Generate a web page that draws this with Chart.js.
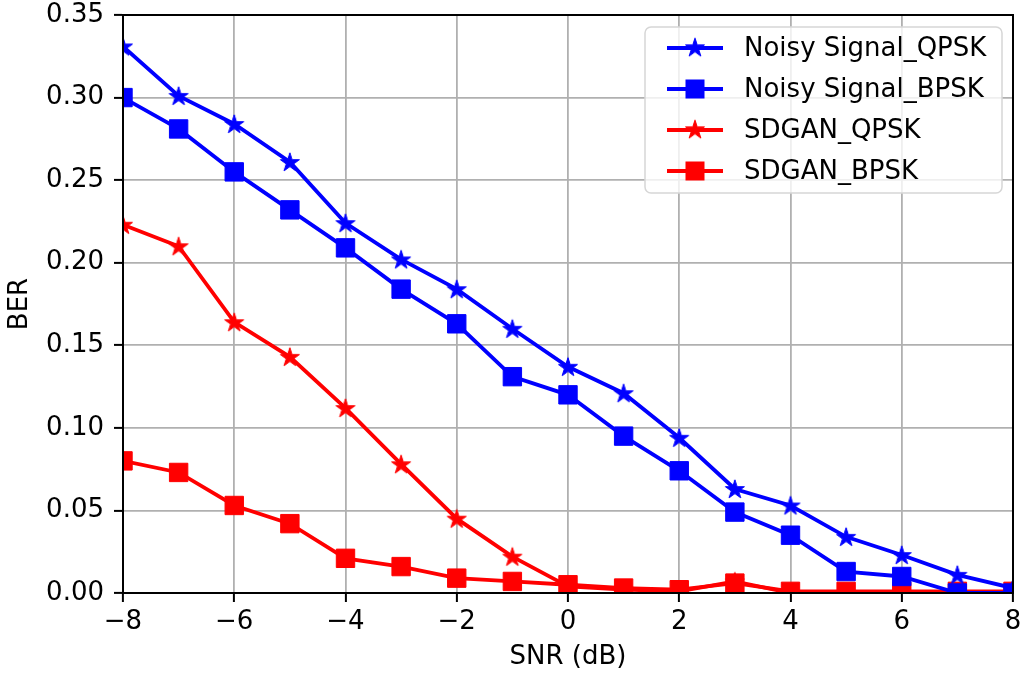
<!DOCTYPE html>
<html>
<head>
<meta charset="utf-8">
<script src="https://cdn.jsdelivr.net/npm/chart.js@4"></script>
<style>
  html, body { margin: 0; padding: 0; background: #fff; }
  #wrap { width: 1027px; height: 677px; }
</style>
</head>
<body>
<div id="wrap"><canvas id="ber"></canvas></div>
<script>
// data
const snr = [-8, -7, -6, -5, -4, -3, -2, -1, 0, 1, 2, 3, 4, 5, 6, 7, 8];
const noisyQpsk = [0.331, 0.301, 0.284, 0.261, 0.224, 0.202, 0.184, 0.160, 0.137, 0.121, 0.094, 0.063, 0.053, 0.034, 0.023, 0.011, 0.003];
const noisyBpsk = [0.300, 0.281, 0.255, 0.232, 0.209, 0.184, 0.163, 0.131, 0.120, 0.095, 0.074, 0.049, 0.035, 0.013, 0.010, 0.000, 0.000];
const sdganQpsk = [0.223, 0.210, 0.164, 0.143, 0.112, 0.078, 0.045, 0.022, 0.004, 0.002, 0.001, 0.007, 0.000, 0.000, 0.000, 0.000, 0.000];
const sdganBpsk = [0.080, 0.073, 0.053, 0.042, 0.021, 0.016, 0.009, 0.007, 0.005, 0.003, 0.002, 0.006, 0.001, 0.001, 0.001, 0.001, 0.001];
const seriesNames = ["Noisy Signal_QPSK", "Noisy Signal_BPSK", "SDGAN_QPSK", "SDGAN_BPSK"];
const yTicks = [0, 0.05, 0.10, 0.15, 0.20, 0.25, 0.30, 0.35];

const FONT = "DejaVu Sans";
const FSIZE = 26;

function makeStar(color) {
  var c = document.createElement("canvas");
  c.width = 24; c.height = 24;
  var g = c.getContext("2d");
  var R = 10, r = R * 0.382;
  g.beginPath();
  for (var i = 0; i < 10; i++) {
    var a = -Math.PI / 2 + i * Math.PI / 5;
    var rad = i % 2 === 0 ? R : r;
    var px = 12 + rad * Math.cos(a), py = 12.8 + rad * Math.sin(a);
    if (i === 0) g.moveTo(px, py); else g.lineTo(px, py);
  }
  g.closePath();
  g.fillStyle = color;
  g.fill();
  g.strokeStyle = color;
  g.lineWidth = 1;
  g.stroke();
  return c;
}

const blueStar = makeStar("#0000ff");
const redStar = makeStar("#ff0000");

function pts(vals) {
  return snr.map(function (x, i) { return { x: x, y: vals[i] }; });
}

function ds(label, vals, color, marker) {
  return {
    label: label,
    data: pts(vals),
    borderColor: color,
    backgroundColor: color,
    borderWidth: 3.8,
    pointStyle: marker,
    pointRadius: marker === "rect" ? 13 : 12,
    pointBorderWidth: 1,
    pointBorderColor: color,
    pointBackgroundColor: color,
    tension: 0
  };
}

const legendEntries = [
  { color: "#0000ff", marker: blueStar },
  { color: "#0000ff", marker: "rect" },
  { color: "#ff0000", marker: redStar },
  { color: "#ff0000", marker: "rect" }
];

const boxPlugin = {
  id: "boxAndLegend",
  afterDraw: function (chart) {
    var ctx = chart.ctx;
    var a = chart.chartArea;
    ctx.save();
    // top/right spines
    ctx.strokeStyle = "#000";
    ctx.lineWidth = 2;
    ctx.strokeRect(a.left, a.top, a.right - a.left, a.bottom - a.top);

    // legend
    var lx = 645, ly = 27, lw = 357, lh = 166, rr = 6;
    ctx.beginPath();
    ctx.moveTo(lx + rr, ly);
    ctx.arcTo(lx + lw, ly, lx + lw, ly + lh, rr);
    ctx.arcTo(lx + lw, ly + lh, lx, ly + lh, rr);
    ctx.arcTo(lx, ly + lh, lx, ly, rr);
    ctx.arcTo(lx, ly, lx + lw, ly, rr);
    ctx.closePath();
    ctx.fillStyle = "rgba(255,255,255,0.8)";
    ctx.fill();
    ctx.strokeStyle = "#d6d6d6";
    ctx.lineWidth = 1.5;
    ctx.stroke();

    ctx.font = FSIZE + "px '" + FONT + "'";
    ctx.textBaseline = "middle";
    ctx.textAlign = "left";
    for (var i = 0; i < legendEntries.length; i++) {
      var e = legendEntries[i];
      var y = 48 + i * 41;
      ctx.strokeStyle = e.color;
      ctx.lineWidth = 3.8;
      ctx.beginPath();
      ctx.moveTo(667, y);
      ctx.lineTo(723, y);
      ctx.stroke();
      if (e.marker === "rect") {
        ctx.fillStyle = e.color;
        ctx.fillRect(695 - 9.5, y - 9.5, 19, 19);
      } else {
        ctx.drawImage(e.marker, 695 - 12, y - 12.8);
      }
      ctx.fillStyle = "#000";
      ctx.fillText(seriesNames[i], 744, y + 1);
    }
    ctx.restore();
  }
};

new Chart(document.getElementById("ber"), {
  type: "line",
  data: {
    datasets: [
      ds(seriesNames[0], noisyQpsk, "#0000ff", blueStar),
      ds(seriesNames[1], noisyBpsk, "#0000ff", "rect"),
      ds(seriesNames[2], sdganQpsk, "#ff0000", redStar),
      ds(seriesNames[3], sdganBpsk, "#ff0000", "rect")
    ]
  },
  options: {
    responsive: true,
    maintainAspectRatio: false,
    animation: false,
    layout: { padding: { left: 0, top: 15, right: 12, bottom: 0 } },
    plugins: {
      legend: { display: false },
      tooltip: { enabled: false }
    },
    scales: {
      x: {
        type: "linear",
        min: -8,
        max: 8,
        afterFit: function (scale) {
          scale.height = 84;
          scale.paddingLeft = 0;
          scale.paddingRight = 0;
        },
        ticks: {
          stepSize: 2,
          color: "#000",
          padding: 5,
          font: { family: FONT, size: FSIZE },
          callback: function (v) { return String(v).replace("-", "\u2212"); }
        },
        grid: { color: "#b0b0b0", lineWidth: 1.8, tickColor: "#000", tickLength: 9, tickWidth: 2 },
        border: { display: true, color: "#000", width: 2 },
        title: { display: true, text: "SNR (dB)", color: "#000", font: { family: FONT, size: FSIZE }, padding: { top: 0, bottom: 4 } }
      },
      y: {
        min: 0,
        max: 0.35,
        afterFit: function (scale) {
          scale.width = 123;
          scale.paddingTop = 0;
          scale.paddingBottom = 0;
        },
        afterBuildTicks: function (scale) {
          scale.ticks = yTicks.map(function (v) { return { value: v }; });
        },
        ticks: {
          color: "#000",
          padding: 10,
          font: { family: FONT, size: FSIZE },
          callback: function (v) { return Number(v).toFixed(2); }
        },
        grid: { color: "#b0b0b0", lineWidth: 1.8, tickColor: "#000", tickLength: 9, tickWidth: 2 },
        border: { display: true, color: "#000", width: 2 },
        title: { display: true, text: "BER", color: "#000", font: { family: FONT, size: FSIZE }, padding: { top: 5, bottom: 0 } }
      }
    }
  },
  plugins: [boxPlugin]
});
</script>
</body>
</html>
